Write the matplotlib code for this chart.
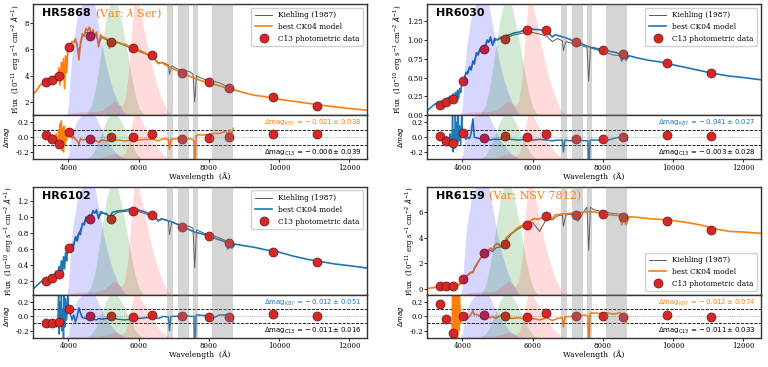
import numpy as np
import matplotlib.pyplot as plt
from matplotlib.ticker import FormatStrFormatter
from matplotlib.lines import Line2D

plt.rcParams['font.family'] = 'DejaVu Serif'
plt.rcParams['font.size'] = 5
plt.rcParams['axes.linewidth'] = 1.0
plt.rcParams['axes.edgecolor'] = '0.2'

orange = '#ff7f0e'
blue = '#1f77b4'

# model spectra (CK04), common wavelength grid
wl_model = [3000, 3100, 3200, 3300, 3400, 3500, 3600, 3650, 3700, 3730,
            3760, 3800, 3830, 3860, 3890, 3920, 3950, 3980, 4000, 4050,
            4100, 4150, 4200, 4250, 4300, 4340, 4400, 4450, 4500, 4550,
            4600, 4650, 4700, 4750, 4800, 4860, 4920, 5000, 5100, 5170,
            5250, 5350, 5450, 5550, 5650, 5750, 5850, 5950, 6050, 6150,
            6250, 6350, 6450, 6563, 6650, 6800, 7000, 7200, 7400, 7600,
            7800, 8000, 8200, 8400, 8500, 8542, 8600, 8662, 8750, 9000,
            9300, 9600, 10000, 10400, 10800, 11200, 11600, 12000, 12500]

model_hr5868 = [2.6, 2.9, 3.3, 3.5, 3.6, 3.7, 3.9, 4.1, 3.6, 4.6,
                3.3, 5.0, 3.8, 5.3, 3.0, 5.5, 4.2, 5.8, 6.4, 6.0,
                6.6, 6.5, 6.8, 6.3, 5.2, 6.4, 7.2, 7.0, 7.6, 7.4,
                7.7, 7.1, 7.5, 7.0, 7.3, 6.2, 7.1, 6.9, 6.8, 6.1,
                6.7, 6.6, 6.5, 6.4, 6.35, 6.2, 6.1, 6.0, 5.9, 5.75,
                5.6, 5.45, 5.3, 4.9, 5.0, 4.75, 4.5, 4.25, 4.0, 3.8,
                3.6, 3.45, 3.3, 3.15, 3.05, 2.8, 3.0, 2.85, 2.9, 2.7,
                2.5, 2.4, 2.2, 2.05, 1.9, 1.75, 1.62, 1.5, 1.37]
model_hr6030 = [0.06, 0.10, 0.14, 0.17, 0.18, 0.20, 0.23, 0.25, 0.21, 0.28,
                0.20, 0.30, 0.24, 0.33, 0.22, 0.35, 0.30, 0.40, 0.47, 0.45,
                0.57, 0.55, 0.64, 0.60, 0.72, 0.68, 0.83, 0.80, 0.88, 0.86,
                0.92, 0.90, 1.00, 0.97, 1.04, 0.93, 1.02, 1.00, 1.04, 0.98,
                1.06, 1.07, 1.09, 1.10, 1.11, 1.13, 1.15, 1.15, 1.14, 1.14,
                1.13, 1.12, 1.10, 1.04, 1.07, 1.05, 1.02, 0.98, 0.95, 0.91,
                0.89, 0.87, 0.85, 0.83, 0.81, 0.72, 0.80, 0.73, 0.79, 0.76,
                0.73, 0.71, 0.67, 0.63, 0.59, 0.55, 0.52, 0.50, 0.47]
model_hr6102 = [0.10, 0.14, 0.18, 0.21, 0.23, 0.25, 0.28, 0.32, 0.26, 0.38,
                0.27, 0.45, 0.30, 0.50, 0.35, 0.55, 0.45, 0.63, 0.65, 0.60,
                0.66, 0.64, 0.75, 0.70, 0.80, 0.78, 0.92, 0.90, 1.00, 0.97,
                1.03, 1.00, 1.08, 1.05, 1.09, 0.98, 1.07, 1.05, 1.04, 0.98,
                1.06, 1.07, 1.08, 1.08, 1.09, 1.10, 1.10, 1.10, 1.08, 1.07,
                1.05, 1.03, 1.01, 0.95, 0.98, 0.96, 0.93, 0.89, 0.85, 0.81,
                0.79, 0.76, 0.73, 0.70, 0.68, 0.60, 0.67, 0.61, 0.66, 0.64,
                0.62, 0.59, 0.56, 0.51, 0.47, 0.44, 0.41, 0.39, 0.36]
model_hr6159 = [0.02, 0.05, 0.10, 0.13, 0.16, 0.18, 0.20, 0.22, 0.20, 0.25,
                0.20, 0.30, 0.25, 0.35, 0.28, 0.40, 0.35, 0.60, 0.85, 0.80,
                1.00, 1.10, 1.20, 1.30, 1.25, 1.60, 1.90, 2.10, 2.35, 2.50,
                2.85, 2.70, 3.00, 3.05, 3.20, 3.00, 3.40, 3.55, 3.30, 3.20,
                4.00, 4.25, 4.45, 4.70, 4.90, 5.05, 5.20, 5.35, 5.50, 5.45,
                5.55, 5.65, 5.70, 5.50, 5.80, 5.85, 5.90, 5.95, 6.00, 6.05,
                6.00, 5.90, 5.80, 5.75, 5.70, 5.00, 5.65, 5.00, 5.65, 5.60,
                5.50, 5.45, 5.35, 5.20, 5.00, 4.70, 4.50, 4.45, 4.35]

# Kiehling (1987) spectra
wl_kiehl = [3300, 3400, 3500, 3600, 3700, 3800, 3900, 3950, 4000, 4100,
            4200, 4300, 4400, 4500, 4600, 4700, 4800, 4860, 4950, 5100,
            5200, 5400, 5600, 5800, 6000, 6200, 6400, 6563, 6700, 6850,
            6880, 6950, 7100, 7300, 7450, 7550, 7600, 7650, 7750, 7900,
            8100, 8300, 8500, 8600, 8700]
kiehl_hr5868 = [3.5, 3.6, 3.7, 3.9, 4.0, 4.3, 4.5, 4.8, 6.2, 6.5,
                6.7, 5.8, 7.0, 7.3, 7.2, 7.2, 7.0, 6.4, 6.9, 6.7,
                6.4, 6.5, 6.3, 6.05, 5.85, 5.65, 5.45, 5.0, 5.0, 4.8,
                4.1, 4.75, 4.5, 4.4, 4.3, 4.1, 2.0, 4.0, 3.85, 3.7,
                3.6, 3.45, 3.2, 3.1, 3.0]
kiehl_hr6030 = [0.15, 0.17, 0.19, 0.22, 0.23, 0.27, 0.30, 0.33, 0.45, 0.55,
                0.62, 0.68, 0.80, 0.87, 0.90, 0.97, 1.00, 0.95, 1.00, 1.02,
                1.00, 1.06, 1.08, 1.10, 1.10, 1.08, 1.05, 0.98, 1.02, 0.99,
                0.86, 0.98, 0.96, 0.94, 0.92, 0.90, 0.45, 0.90, 0.88, 0.86,
                0.83, 0.80, 0.79, 0.78, 0.77]
kiehl_hr6102 = [0.20, 0.22, 0.24, 0.27, 0.30, 0.40, 0.50, 0.55, 0.60, 0.62,
                0.72, 0.80, 0.90, 0.98, 1.00, 1.05, 1.06, 1.00, 1.05, 1.03,
                1.00, 1.06, 1.07, 1.08, 1.07, 1.04, 1.01, 0.96, 0.97, 0.95,
                0.78, 0.94, 0.91, 0.90, 0.88, 0.86, 0.36, 0.84, 0.82, 0.79,
                0.77, 0.74, 0.70, 0.69, 0.68]
kiehl_hr6159 = [0.13, 0.15, 0.17, 0.19, 0.20, 0.25, 0.30, 0.40, 0.75, 0.95,
                1.15, 1.35, 1.80, 2.30, 2.70, 2.90, 3.00, 2.90, 3.20, 3.30,
                3.60, 4.30, 4.70, 5.00, 5.20, 4.50, 5.50, 5.40, 5.70, 5.80,
                4.90, 5.80, 5.85, 5.30, 6.00, 6.40, 3.00, 6.40, 6.20, 6.10,
                6.00, 5.90, 5.85, 5.80, 5.75]

# C13 photometry
wl_phot = [3370, 3540, 3740, 4030, 4610, 5200, 5830, 6380, 7230, 8000, 8575, 9830, 11080]
phot_hr5868 = [3.54, 3.66, 3.97, 6.21, 6.98, 6.52, 6.09, 5.58, 4.17, 3.54, 3.03, 2.34, 1.72]
phot_hr6030 = [0.14, 0.17, 0.22, 0.46, 0.88, 1.01, 1.14, 1.13, 0.97, 0.87, 0.81, 0.69, 0.56]
phot_hr6102 = [0.20, 0.23, 0.28, 0.61, 0.97, 0.98, 1.07, 1.02, 0.87, 0.76, 0.68, 0.56, 0.44]
phot_hr6159 = [0.18, 0.20, 0.25, 0.80, 2.82, 3.48, 5.04, 5.67, 5.75, 5.87, 5.60, 5.34, 4.61]

dphot_hr5868 = [0.023, -0.02, -0.09, 0.07, -0.02, 0.0, 0.0, 0.047, -0.03, -0.01, 0.0, 0.04, 0.04]
dphot_hr6030 = [0.02, -0.05, -0.08, 0.05, -0.01, 0.01, 0.0, 0.04, -0.02, -0.02, 0.0, 0.03, 0.01]
dphot_hr6102 = [-0.1, -0.1, -0.08, 0.1, 0.01, 0.0, -0.01, 0.02, 0.0, -0.01, -0.01, 0.03, 0.01]
dphot_hr6159 = [0.17, -0.04, -0.23, 0.0, 0.02, 0.0, -0.01, 0.05, 0.0, 0.01, -0.01, 0.02, -0.01]

# model - Kiehling residuals
wl_res = [3450, 3500, 3550, 3600, 3650, 3700, 3720, 3740, 3760, 3780,
          3800, 3820, 3840, 3860, 3880, 3900, 3920, 3950, 3980, 4000,
          4050, 4100, 4150, 4200, 4250, 4300, 4340, 4400, 4500, 4600,
          4700, 4800, 4860, 4950, 5100, 5200, 5400, 5600, 5800, 6000,
          6200, 6400, 6563, 6700, 6850, 6880, 6920, 7100, 7300, 7500,
          7580, 7600, 7640, 7700, 7900, 8100, 8300, 8500, 8542, 8600,
          8662, 8700]
res_hr5868 = [0.02, -0.05, 0.03, -0.08, 0.05, -0.12, 0.10, -0.15, 0.18, -0.05,
              0.22, -0.18, 0.12, -0.20, 0.15, -0.10, 0.08, -0.05, 0.10, 0.06,
              0.02, -0.02, 0.01, -0.03, -0.05, -0.10, -0.02, -0.04, -0.03, -0.05,
              -0.04, -0.05, -0.07, -0.04, -0.05, -0.04, -0.04, -0.05, -0.04, -0.04,
              -0.03, -0.03, -0.05, -0.02, -0.03, -0.17, -0.03, -0.02, -0.03, -0.02,
              -0.05, -0.60, 0.02, 0.03, 0.03, 0.05, 0.05, 0.08, 0.02, 0.10,
              0.05, 0.12]
res_hr6030 = [0.02, -0.02, 0.01, -0.06, 0.05, -0.10, 0.30, -0.20, 0.10, -0.15,
              0.30, -0.10, 0.20, -0.08, 0.30, -0.05, 0.15, -0.10, 0.35, 0.05,
              0.02, -0.03, 0.00, -0.02, 0.05, 0.25, 0.00, -0.01, -0.02, -0.03,
              -0.02, -0.04, -0.03, -0.03, -0.03, -0.02, -0.03, -0.04, -0.03, -0.04,
              -0.03, -0.04, -0.05, -0.04, -0.04, -0.20, -0.04, -0.05, -0.04, -0.05,
              -0.05, -0.60, -0.04, -0.04, -0.04, -0.05, -0.02, 0.00, -0.04, 0.00,
              -0.05, -0.04]
res_hr6102 = [-0.08, -0.12, -0.05, -0.10, -0.15, -0.05, 0.30, -0.25, 0.20, -0.10,
              0.35, -0.20, 0.10, -0.30, 0.30, -0.15, 0.25, -0.05, 0.30, 0.08,
              0.05, -0.05, 0.02, -0.08, 0.00, 0.12, 0.05, -0.02, -0.03, -0.03,
              -0.04, -0.05, -0.03, -0.04, -0.03, -0.01, -0.04, -0.05, -0.04, -0.03,
              -0.02, -0.01, -0.03, 0.00, -0.01, -0.20, 0.00, 0.00, 0.01, 0.00,
              0.00, -0.60, 0.02, 0.02, 0.01, -0.03, 0.02, 0.02, -0.03, 0.01,
              -0.05, -0.08]
res_hr6159 = [np.nan, np.nan, np.nan, np.nan, np.nan, -0.50, 0.50, -0.50, 0.50, -0.50,
              0.50, -0.50, 0.50, -0.50, 0.50, -0.20, 0.30, -0.10, 0.05, 0.00,
              -0.02, 0.01, -0.03, 0.00, 0.03, 0.08, 0.02, 0.03, 0.00, 0.02,
              -0.01, -0.02, 0.00, -0.03, 0.02, -0.01, -0.03, -0.02, -0.04, -0.03,
              -0.05, -0.02, -0.06, -0.03, -0.02, -0.15, -0.01, 0.00, 0.01, 0.02,
              0.00, -0.60, 0.04, 0.05, 0.04, 0.05, 0.03, 0.05, -0.02, 0.04,
              -0.08, -0.10]

# filter curves (relative height)
wl_filt_b = [3950, 4000, 4050, 4120, 4250, 4400, 4550, 4700, 4780, 4850, 4920,
             5000, 5100, 5200, 5300, 5420, 5550, 5650]
filt_b = [0, 0.08, 0.35, 0.62, 0.88, 1.02, 1.08, 1.05, 0.95, 0.82, 0.7,
          0.56, 0.42, 0.3, 0.2, 0.11, 0.04, 0]
wl_filt_v = [4500, 4650, 4780, 4880, 4980, 5080, 5180, 5300, 5420, 5520, 5620,
             5720, 5820, 5920, 6020, 6150]
filt_v = [0, 0.08, 0.25, 0.46, 0.68, 0.88, 1.0, 1.05, 0.97, 0.83, 0.67,
          0.49, 0.31, 0.16, 0.06, 0]
wl_filt_r = [4000, 4100, 4400, 4800, 5000, 5300, 5500, 5600, 5700, 5800, 5880,
             6000, 6100, 6200, 6300, 6400, 6500, 6600, 6700, 6800, 6950]
filt_r = [0, 0.02, 0.03, 0.03, 0.05, 0.13, 0.08, 0.12, 0.35, 0.76, 1.03,
          1.0, 0.86, 0.7, 0.55, 0.42, 0.3, 0.2, 0.12, 0.05, 0]

telluric = [(6800, 6970), (7115, 7430), (7560, 7700), (8085, 8700)]

names = ['HR5868', 'HR6030', 'HR6102', 'HR6159']
variab = [r'(Var: $\lambda$ Ser)', None, None, '(Var: NSV 7812)']
colors = [orange, blue, blue, orange]
models = [model_hr5868, model_hr6030, model_hr6102, model_hr6159]
kiehls = [kiehl_hr5868, kiehl_hr6030, kiehl_hr6102, kiehl_hr6159]
phots = [phot_hr5868, phot_hr6030, phot_hr6102, phot_hr6159]
dphots = [dphot_hr5868, dphot_hr6030, dphot_hr6102, dphot_hr6159]
resids = [res_hr5868, res_hr6030, res_hr6102, res_hr6159]
dmag_k87 = ['-\\,0.021 \\pm 0.038', '-\\,0.041 \\pm 0.027', '-\\,0.012 \\pm 0.051', '-\\,0.012 \\pm 0.074']
dmag_c13 = ['-\\,0.006 \\pm 0.039', '-\\,0.003 \\pm 0.028', '-\\,0.011 \\pm 0.016', '-\\,0.011 \\pm 0.033']
scale = ['11', '10', '10', '11']
ylims = [(1.0, 9.45), (0.0, 1.48), (0.02, 1.38), (-0.5, 8.0)]
yticks = [[2, 4, 6, 8], [0, 0.25, 0.5, 0.75, 1.0, 1.25],
          [0.2, 0.4, 0.6, 0.8, 1.0, 1.2], [0, 2, 4, 6]]
yfmt = ['%d', '%.2f', '%.1f', '%d']
legloc = ['upper right', 'upper right', 'upper right', 'lower right']

lefts = [0.0434, 0.5564, 0.0434, 0.5564]
main_b = [0.6866, 0.6866, 0.196, 0.196]
main_h = [0.3025, 0.3025, 0.295, 0.295]
res_b = [0.566, 0.566, 0.080, 0.080]
res_h = [0.1206, 0.1206, 0.116, 0.116]
W = 0.434

fig = plt.figure(figsize=(7.68, 3.67), dpi=100)


def decorate(ax):
    tr = ax.get_xaxis_transform()
    ax.fill_between(wl_filt_b, 0, filt_b, transform=tr, color='blue', alpha=0.16, lw=0, zorder=3)
    ax.fill_between(wl_filt_v, 0, filt_v, transform=tr, color='green', alpha=0.17, lw=0, zorder=3)
    ax.fill_between(wl_filt_r, 0, filt_r, transform=tr, color='red', alpha=0.14, lw=0, zorder=3)
    for a, b in telluric:
        ax.axvspan(a, b, color='gray', alpha=0.33, lw=0, zorder=3)
    ax.set_xlim(3000, 12500)
    ax.tick_params(length=2.2, width=0.6, pad=1.0, labelsize=5)


for i in range(4):
    ax = fig.add_axes([lefts[i], main_b[i], W, main_h[i]])
    ar = fig.add_axes([lefts[i], res_b[i], W, res_h[i]], sharex=ax)
    c = colors[i]

    ax.plot(wl_kiehl, kiehls[i], color='0.35', lw=0.7, zorder=1)
    ax.plot(wl_model, models[i], color=c, lw=1.2, zorder=1.5)
    ax.scatter(wl_phot, phots[i], s=42, color='#d62728', edgecolor='#6b1515',
               linewidth=0.5, zorder=2)
    decorate(ax)
    ax.set_ylim(*ylims[i])
    ax.set_yticks(yticks[i])
    ax.yaxis.set_major_formatter(FormatStrFormatter(yfmt[i]))
    ax.tick_params(axis='x', bottom=False, labelbottom=False)
    ax.set_ylabel(r'Flux  (10$^{-%s}$ erg s$^{-1}$ cm$^{-2}$ $\AA^{-1}$)' % scale[i],
                  fontsize=5, labelpad=2)

    ax.text(0.026, 0.915, names[i], transform=ax.transAxes, fontsize=8,
            fontweight='bold', family='DejaVu Sans', va='center', zorder=5)
    if variab[i]:
        ax.text(0.186, 0.915, variab[i], transform=ax.transAxes, fontsize=8,
                color=orange, va='center', zorder=5)

    handles = [Line2D([], [], color='0.35', lw=0.7),
               Line2D([], [], color=c, lw=1.2),
               Line2D([], [], ls='', marker='o', ms=6.5, color='#d62728',
                      markeredgecolor='#6b1515', markeredgewidth=0.5)]
    ax.legend(handles, ['Kiehling (1987)', 'best CK04 model', 'C13 photometric data'],
              loc=legloc[i], fontsize=5.3, framealpha=0.9, edgecolor='0.8',
              handlelength=2.3, borderpad=0.5, labelspacing=0.5)

    # residual panel
    ar.plot(wl_res, resids[i], color=c, lw=1.1, zorder=1.5)
    ar.scatter(wl_phot, dphots[i], s=42, color='#d62728', edgecolor='#6b1515',
               linewidth=0.5, zorder=2)
    ar.axhline(0.1, color='k', ls='--', lw=0.6, zorder=1)
    ar.axhline(-0.1, color='k', ls='--', lw=0.6, zorder=1)
    ar.axhline(0.0, color='0.6', ls=':', lw=0.6, zorder=1)
    decorate(ar)
    ar.set_ylim(-0.3, 0.3)
    ar.set_yticks([-0.2, 0.0, 0.2])
    ar.yaxis.set_major_formatter(FormatStrFormatter('%.1f'))
    ar.set_xticks([4000, 6000, 8000, 10000, 12000])
    ar.set_ylabel(r'$\Delta mag$', fontsize=5, labelpad=2)
    ar.set_xlabel('Wavelength  (Å)', fontsize=5.5, labelpad=0.5)
    ar.text(0.985, 0.82, r'$\Delta$mag$_{\rm K87}$ = $%s$' % dmag_k87[i],
            transform=ar.transAxes, ha='right', va='center', color=c,
            fontsize=5, family='DejaVu Sans', zorder=5)
    ar.text(0.985, 0.15, r'$\Delta$mag$_{\rm C13}$ = $%s$' % dmag_c13[i],
            transform=ar.transAxes, ha='right', va='center', color='k',
            fontsize=5, family='DejaVu Sans', zorder=5)

fig.savefig('out.png', dpi=100)
